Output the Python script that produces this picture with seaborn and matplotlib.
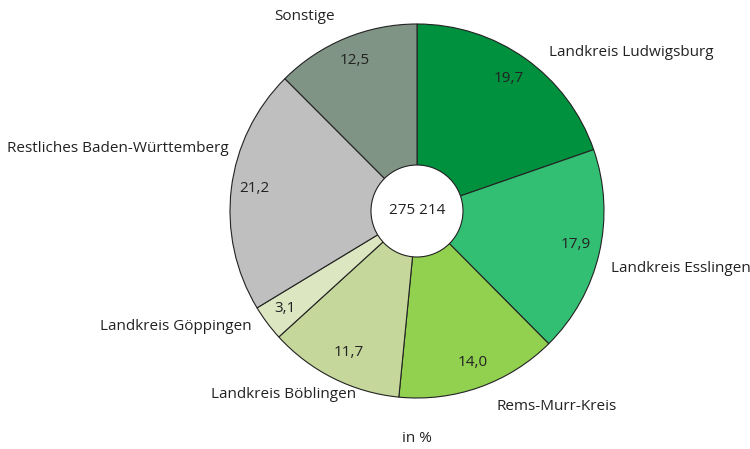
import matplotlib.pyplot as plt
import seaborn as sns

sns.set_theme(style="white")
plt.rcParams['font.family'] = ['Open Sans', 'DejaVu Sans']

# Data
regions = ['Landkreis Ludwigsburg', 'Landkreis Esslingen', 'Rems-Murr-Kreis',
           'Landkreis Böblingen', 'Landkreis Göppingen',
           'Restliches Baden-Württemberg', 'Sonstige']
shares = [19.7, 17.9, 14.0, 11.7, 3.1, 21.2, 12.5]
colors = ['#00913f', '#33bf73', '#92d050', '#c6d79c', '#dce6c0', '#bfbfbf', '#7f9484']
total = '275 214'

W, H = 750, 449
fig = plt.figure(figsize=(W / 100, H / 100), dpi=100)
ax = fig.add_axes([0, 0, 1, 1])

cx, cy, r = 417, H - 211, 187
ax.pie(shares, colors=colors, startangle=90, counterclock=False,
       center=(cx, cy), radius=r,
       wedgeprops=dict(edgecolor='#222222', linewidth=0.8))
ax.add_patch(plt.Circle((cx, cy), 46, facecolor='white', edgecolor='#222222',
                        linewidth=0.8, zorder=5))
fs = 11
ax.text(cx, cy, total, ha='center', va='center', fontsize=fs, color='#222222', zorder=6)

ax.set_xlim(0, W)
ax.set_ylim(0, H)
ax.set_aspect('equal')
ax.axis('off')

# label placement (pixel positions from top-left)
value_pos = [(509, 79), (576, 244), (473, 363), (349, 353), (285, 309), (254, 189), (355, 60)]
label_pos = [(549, 53, 'left'), (611, 269, 'left'), (497, 406, 'left'),
             (356, 395, 'right'), (252, 326, 'right'), (229, 148, 'right'),
             (305, 16, 'center')]

for val, (vx, vy) in zip(shares, value_pos):
    ax.text(vx, H - vy, f'{val:.1f}'.replace('.', ','), ha='center', va='center',
            fontsize=fs, color='#222222')
for name, (lx, ly, ha) in zip(regions, label_pos):
    ax.text(lx, H - ly, name, ha=ha, va='center', fontsize=fs, color='#222222')

ax.text(417, H - 439, 'in %', ha='center', va='center', fontsize=fs, color='#222222')

fig.savefig('out.png', dpi=100)
